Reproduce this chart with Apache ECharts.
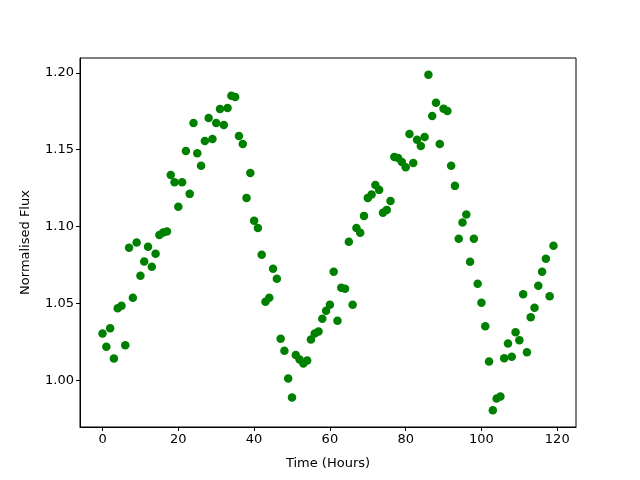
<!DOCTYPE html>
<html>
<head>
<meta charset="utf-8">
<script src="https://cdn.jsdelivr.net/npm/echarts@6/dist/echarts.min.js"></script>
<style>html,body{margin:0;padding:0;background:#fff;}#c{width:640px;height:480px;}</style>
</head>
<body>
<div id="c"></div>
<script>
// Time in hours (x) and normalised flux (y)
const hours = [];
for (let i = 0; i < 120; i++) hours.push(i);
const flux = [
  1.0305, 1.0220, 1.0339, 1.0143, 1.0469, 1.0486, 1.0229, 1.0863, 1.0538, 1.0897,
  1.0681, 1.0774, 1.0869, 1.0739, 1.0824, 1.0945, 1.0962, 1.0969, 1.1336, 1.1289,
  1.1129, 1.1289, 1.1492, 1.1213, 1.1673, 1.1477, 1.1395, 1.1557, 1.1706, 1.1570,
  1.1673, 1.1764, 1.1661, 1.1771, 1.1851, 1.1842, 1.1589, 1.1537, 1.1187, 1.1349,
  1.1038, 1.0992, 1.0817, 1.0512, 1.0538, 1.0726, 1.0661, 1.0272, 1.0194, 1.0013,
  0.9890, 1.0166, 1.0136, 1.0110, 1.0130, 1.0266, 1.0305, 1.0318, 1.0402, 1.0454,
  1.0493, 1.0707, 1.0389, 1.0603, 1.0597, 1.0902, 1.0493, 1.0992, 1.0960, 1.1070,
  1.1187, 1.1209, 1.1271, 1.1239, 1.1090, 1.1109, 1.1167, 1.1453, 1.1446, 1.1420,
  1.1386, 1.1602, 1.1414, 1.1565, 1.1524, 1.1583, 1.1987, 1.1719, 1.1805, 1.1537,
  1.1766, 1.1751, 1.1395, 1.1265, 1.0921, 1.1027, 1.1079, 1.0772, 1.0921, 1.0629,
  1.0506, 1.0352, 1.0123, 0.9807, 0.9883, 0.9896, 1.0145, 1.0240, 1.0155, 1.0313,
  1.0261, 1.0560, 1.0184, 1.0411, 1.0473, 1.0616, 1.0707, 1.0791, 1.0547, 1.0876
];
const xTicks = [0, 20, 40, 60, 80, 100, 120];
const yTicks = [1.00, 1.05, 1.10, 1.15, 1.20];
const xName = 'Time (Hours)';
const yName = 'Normalised Flux';

const points = hours.map((h, i) => [h, flux[i]]);
const xMinD = Math.min(...hours), xMaxD = Math.max(...hours);
const yMinD = Math.min(...flux), yMaxD = Math.max(...flux);
const xPad = (xMaxD - xMinD) * 0.05, yPad = (yMaxD - yMinD) * 0.05;

const font = 'DejaVu Sans';
const chart = echarts.init(document.getElementById('c'), null, {renderer: 'canvas'});
chart.setOption({
  animation: false,
  backgroundColor: '#ffffff',
  grid: {left: 80, right: 64, top: 58, bottom: 53, show: true, borderColor: '#000', borderWidth: 1, containLabel: false},
  xAxis: {
    type: 'value', min: xMinD - xPad, max: xMaxD + xPad,
    name: xName, nameLocation: 'middle', nameGap: 30,
    nameTextStyle: {fontFamily: font, fontSize: 13, color: '#000'},
    axisLine: {show: true, onZero: false, lineStyle: {color: '#000', width: 1}},
    axisTick: {show: true, length: 4, lineStyle: {color: '#000'}, customValues: xTicks},
    axisLabel: {fontFamily: font, fontSize: 13, color: '#000', margin: 6, customValues: xTicks},
    splitLine: {show: false}
  },
  yAxis: {
    type: 'value', min: yMinD - yPad, max: yMaxD + yPad,
    name: yName, nameLocation: 'middle', nameGap: 48,
    nameTextStyle: {fontFamily: font, fontSize: 13, color: '#000'},
    axisLine: {show: true, onZero: false, lineStyle: {color: '#000', width: 1}},
    axisTick: {show: true, length: 4, lineStyle: {color: '#000'}, customValues: yTicks},
    axisLabel: {fontFamily: font, fontSize: 13, color: '#000', margin: 6, customValues: yTicks,
      formatter: v => v.toFixed(2)},
    splitLine: {show: false}
  },
  series: [{
    type: 'scatter', data: points, symbol: 'circle', symbolSize: 8.5,
    itemStyle: {color: '#008000', opacity: 1},
    emphasis: {disabled: true}
  }]
});
</script>
</body>
</html>
